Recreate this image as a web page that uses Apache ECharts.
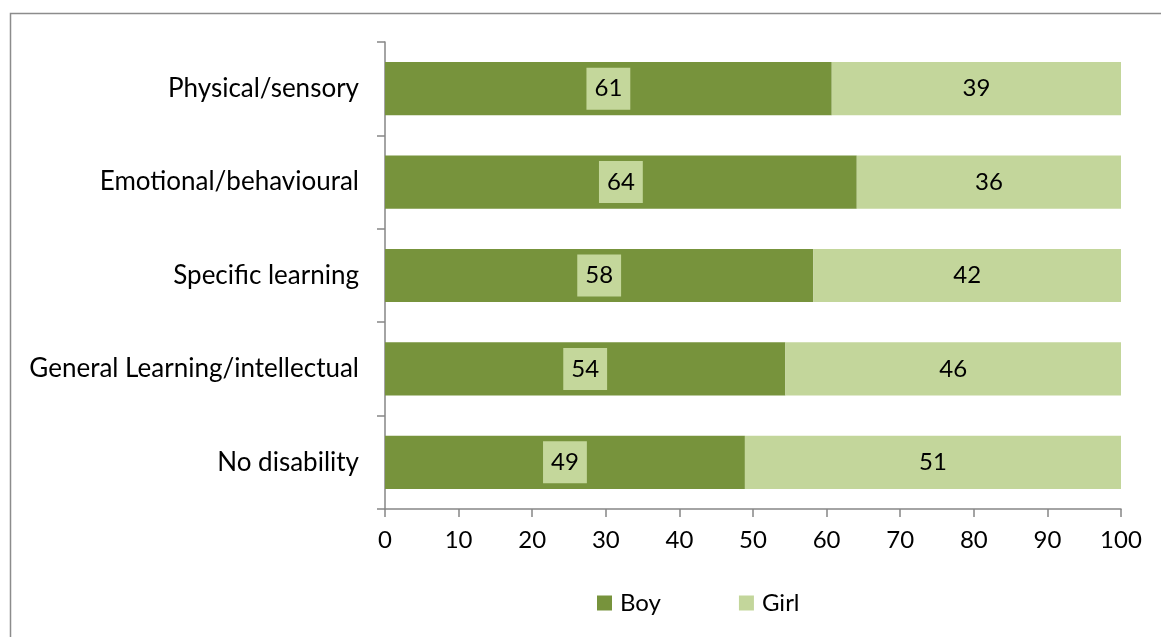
<!DOCTYPE html>
<html><head><meta charset="utf-8">
<style>html,body{margin:0;padding:0;background:#fff}#c{width:1161px;height:637px}</style>
<script src="https://cdn.jsdelivr.net/npm/echarts@6/dist/echarts.min.js"></script>
</head><body><div id="c"></div>
<script>
const categories = ['No disability','General Learning/intellectual','Specific learning','Emotional/behavioural','Physical/sensory'];
const boyValues = [48.9, 54.4, 58.2, 64.1, 60.7];
const girlValues = [51.1, 45.6, 41.8, 35.9, 39.3];
const xTicks = [0,10,20,30,40,50,60,70,80,90,100];
const FONT = 'Lato';
const chart = echarts.init(document.getElementById('c'));
chart.setOption({
  animation: false,
  textStyle: {fontFamily: FONT},
  graphic: [{type:'rect', shape:{x:10.5,y:13.5,width:1200,height:700}, style:{fill:'none',stroke:'#8c8c8c',lineWidth:1.5}, silent:true}],
  grid: {left: 385, right: 40, top: 42, bottom: 128},
  legend: {
    top: 586, left: 592, itemWidth: 15, itemHeight: 15, itemGap: 78,
    icon: 'rect',
    textStyle: {fontSize: 24, color: '#000', fontFamily: FONT, padding: [0,0,0,3]},
    data: ['Boy','Girl']
  },
  xAxis: {
    type: 'value', min: 0, max: 100, interval: 10,
    axisLine: {show: true, lineStyle: {color: '#868686', width: 1.5}},
    axisTick: {show: true, length: 8, lineStyle: {color: '#868686', width: 1.5}},
    splitLine: {show: false},
    axisLabel: {fontSize: 24, color: '#000', margin: 19, fontFamily: FONT,
      formatter: v => xTicks.includes(v) ? String(v) : ''}
  },
  yAxis: {
    type: 'category', data: categories,
    axisLine: {show: true, lineStyle: {color: '#868686', width: 1.5}},
    axisTick: {show: true, length: 8, lineStyle: {color: '#868686', width: 1.5}},
    axisLabel: {fontSize: 26, color: '#000', margin: 26, fontFamily: FONT}
  },
  series: [
    {name: 'Boy', type: 'bar', stack: 't', data: boyValues, barCategoryGap: '43%',
     itemStyle: {color: '#77933c'},
     label: {show: true, position: 'inside', fontSize: 24, color: '#000', fontFamily: FONT,
       backgroundColor: '#c4d79b', padding: [9, 8, 9, 8],
       formatter: p => Math.round(p.value)}},
    {name: 'Girl', type: 'bar', stack: 't', data: girlValues,
     itemStyle: {color: '#c3d69b'},
     label: {show: true, position: 'inside', fontSize: 24, color: '#000', fontFamily: FONT,
       formatter: p => Math.round(p.value)}}
  ]
});
</script></body></html>
